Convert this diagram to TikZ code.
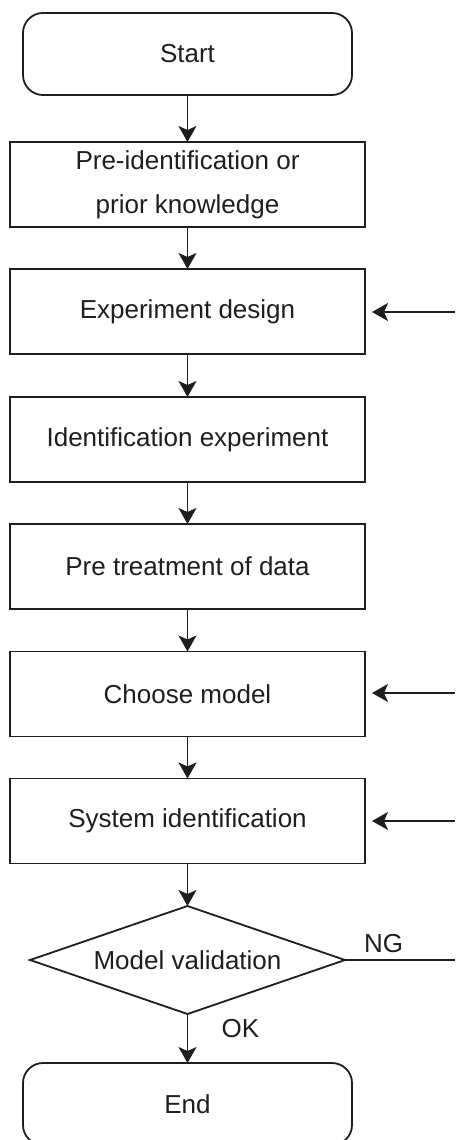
\documentclass[tikz,border=0pt]{standalone}
\usepackage{fontspec}
\setmainfont{Liberation Sans}
\usetikzlibrary{shapes.geometric,arrows.meta}
\definecolor{ink}{HTML}{1E1E1E}
\begin{document}
\begin{tikzpicture}[x=1pt,y=-1pt,
  every node/.style={font=\fontsize{26}{44}\selectfont, text=ink},
  line/.style={draw=ink, line width=1.8pt},
  terminal/.style={line, rounded corners=20pt, minimum width=329pt, minimum height=82pt, inner sep=0pt, outer sep=0pt},
  procbox/.style={line, minimum width=355pt, minimum height=85pt, inner sep=0pt, outer sep=0pt, align=center},
  decision/.style={line, diamond, shape aspect=2.9167, minimum width=315pt, minimum height=108pt, inner sep=0pt, outer sep=0pt},
  flow/.style={line, -{Stealth[length=16pt,width=18pt,inset=4pt]}},
  feed/.style={flow, shorten >=7pt}
]
\useasboundingbox (0,0) rectangle (455,1140);

\node[terminal] (start) at (187.5,54) {Start};
\node[procbox] (prior) at (187.5,184.5) {Pre-identification or\\prior knowledge};
\node[procbox] (design) at (187.5,311.5) {Experiment design};
\node[procbox] (exper) at (187.5,439.5) {Identification experiment};
\node[procbox] (pretr) at (187.5,566.5) {Pre treatment of data};
\node[procbox] (choose) at (187.5,694) {Choose model};
\node[procbox] (sysid) at (187.5,821) {System identification};
\node[decision] (valid) at (187.5,960) {Model validation};
\node[terminal] (finish) at (187.5,1104) {End};

% main flow
\draw[flow] (start) -- (prior);
\draw[flow] (prior) -- (design);
\draw[flow] (design) -- (exper);
\draw[flow] (exper) -- (pretr);
\draw[flow] (pretr) -- (choose);
\draw[flow] (choose) -- (sysid);
\draw[flow] (sysid) -- (valid);
\draw[flow] (valid) -- node[right=30pt, pos=0.3] (ok) {OK} (finish);

% feedback entries from the right edge
\coordinate (fb1) at (455,312);
\coordinate (fb2) at (455,693);
\coordinate (fb3) at (455,821);
\coordinate (ng) at (455,960);
\draw[feed] (fb1) -- (design.east |- fb1);
\draw[feed] (fb2) -- (choose.east |- fb2);
\draw[feed] (fb3) -- (sysid.east |- fb3);
\draw[line] (valid.east) -- node[above=3pt, pos=0.35] (nglabel) {NG} (ng);
\end{tikzpicture}
\end{document}
